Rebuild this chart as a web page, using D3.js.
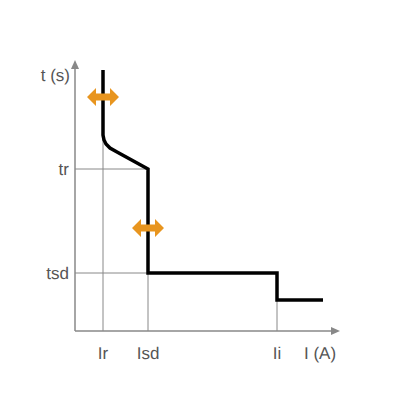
<!DOCTYPE html><html><head><script src="https://cdn.jsdelivr.net/npm/d3@7"></script>
<style>body{margin:0;background:#fff}</style></head><body><svg id="c" width="400" height="400"></svg>
<script>
const curve=[[28,261],[28,196],[29,191],[31,187],[35,183],[42,179],[73,162],[73,58],[202,58],[202,31],[248,31]];
const xTicks=[{label:"Ir",v:28},{label:"Isd",v:73},{label:"Ii",v:202}];
const yTicks=[{label:"tr",v:162,to:73},{label:"tsd",v:58,to:73}];
const arrows=[[28,234],[73,103]];
const svg=d3.select("#c");
const x=d3.scaleLinear().domain([0,265]).range([75,340]);
const y=d3.scaleLinear().domain([0,271]).range([331,60]);
const gray="#888",tc="#555";
xTicks.forEach(t=>svg.append("line").attr("x1",x(t.v)).attr("x2",x(t.v)).attr("y1",y(0)).attr("y2",y(t.v===28?240:t.v===73?162:58)).attr("stroke",gray).attr("stroke-width",1));
yTicks.forEach(t=>svg.append("line").attr("x1",x(0)).attr("x2",x(t.to)).attr("y1",y(t.v)).attr("y2",y(t.v)).attr("stroke",gray).attr("stroke-width",1));
svg.append("line").attr("x1",x(0)).attr("x2",x(262)).attr("y1",y(0)).attr("y2",y(0)).attr("stroke",gray).attr("stroke-width",1.5);
svg.append("line").attr("x1",x(0)).attr("x2",x(0)).attr("y1",y(0)).attr("y2",y(268)).attr("stroke",gray).attr("stroke-width",1.5);
svg.append("path").attr("d",`M${x(265)},${y(0)} l-9,-4 v8 z`).attr("fill",gray);
svg.append("path").attr("d",`M${x(0)},${y(271)} l-4,9 h8 z`).attr("fill",gray);
svg.append("path").datum(curve).attr("d",d3.line().x(d=>x(d[0])).y(d=>y(d[1]))).attr("fill","none").attr("stroke","#000").attr("stroke-width",3.5);
arrows.forEach(a=>{const cx=x(a[0]),cy=y(a[1]);
svg.append("path").attr("d",`M${cx-16},${cy} l9,-9 v5.5 h14 v-5.5 l9,9 l-9,9 v-5.5 h-14 v5.5 z`).attr("fill","#E8951F");});
const f="'Liberation Sans',Arial,sans-serif";
const txt=(xx,yy,a,s)=>svg.append("text").attr("x",xx).attr("y",yy).attr("text-anchor",a).attr("font-family",f).attr("font-size",17).attr("fill",tc).style("text-rendering","geometricPrecision").text(s);
xTicks.forEach(t=>txt(x(t.v),359,"middle",t.label));
yTicks.forEach(t=>txt(69,y(t.v)+6,"end",t.label));
txt(304,359,"start","I (A)");
txt(70,81,"end","t (s)");
</script></body></html>
